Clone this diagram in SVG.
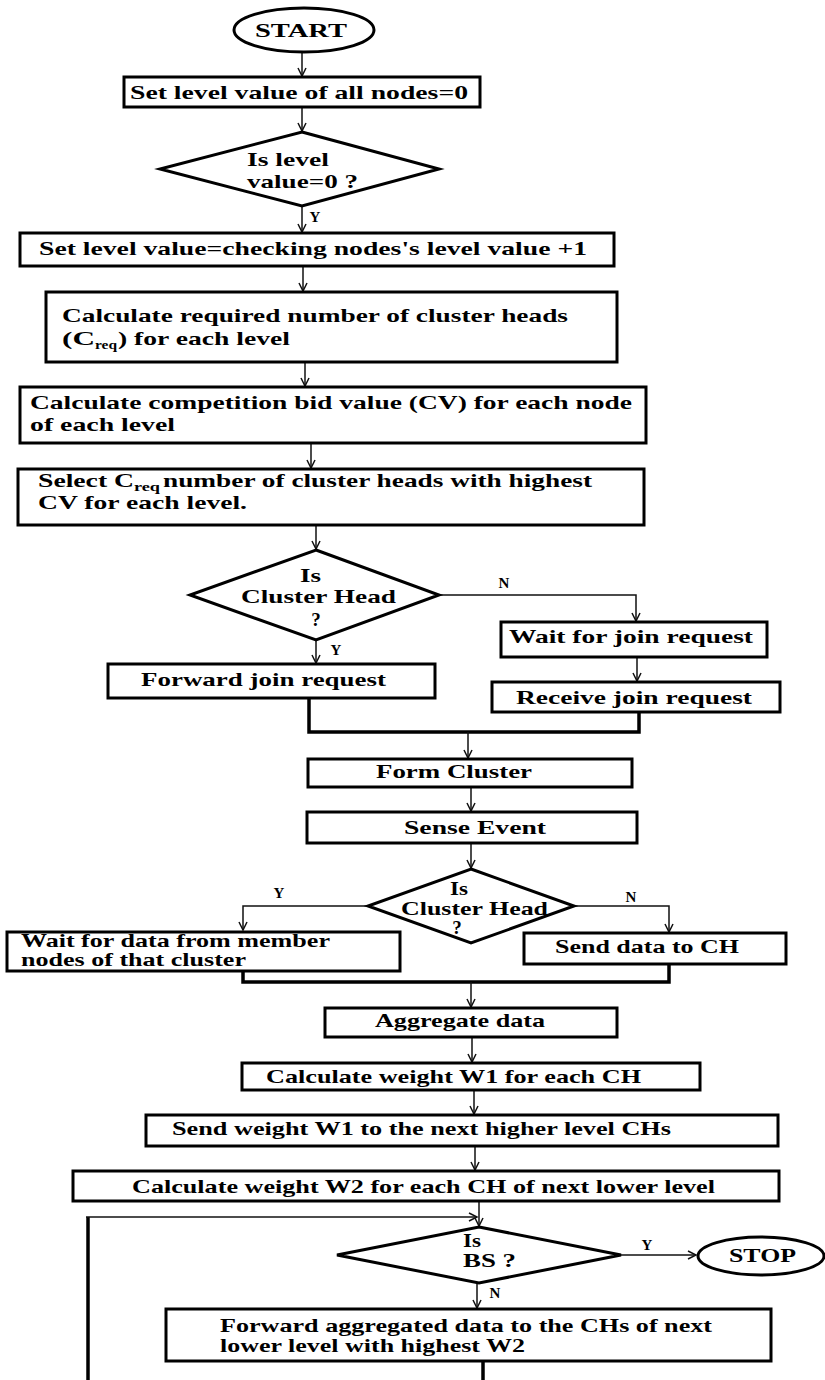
<svg xmlns="http://www.w3.org/2000/svg" width="825" height="1380" viewBox="0 0 825 1380">
  <style>
    .box { fill: #fff; stroke: #000; stroke-width: 3; }
    .dia { fill: #fff; stroke: #000; stroke-width: 3; }
    .term { fill: #fff; stroke: #000; stroke-width: 3; }
    .t { font-family: "Liberation Serif", "Times New Roman", serif; font-weight: bold; font-size: 19px; fill: #000; }
    .sub { font-family: "Liberation Serif", "Times New Roman", serif; font-weight: bold; font-size: 12px; fill: #000; }
    .lbl { font-family: "Liberation Serif", "Times New Roman", serif; font-weight: bold; font-size: 15px; fill: #000; text-anchor: middle; }
    .conn { fill: none; stroke: #111; stroke-width: 1.5; }
    .thick { fill: none; stroke: #000; stroke-width: 3.5; }
  </style>
  <defs>
    <marker id="arrow" markerUnits="userSpaceOnUse" markerWidth="12" markerHeight="12" refX="9" refY="5" orient="auto">
      <path d="M1,1 L9,5 L1,9" fill="none" stroke="#111" stroke-width="1.5"/>
    </marker>
  </defs>

  <rect width="825" height="1380" fill="#fff"/>

  <!-- connectors -->
  <g id="connectors">
    <line class="conn" x1="302" y1="52" x2="302" y2="76" marker-end="url(#arrow)"/>
    <line class="conn" x1="302" y1="107" x2="302" y2="131" marker-end="url(#arrow)"/>
    <line class="conn" x1="302" y1="206" x2="302" y2="232" marker-end="url(#arrow)"/>
    <line class="conn" x1="303" y1="266" x2="303" y2="291" marker-end="url(#arrow)"/>
    <line class="conn" x1="305" y1="362" x2="305" y2="386" marker-end="url(#arrow)"/>
    <line class="conn" x1="311" y1="443" x2="311" y2="468" marker-end="url(#arrow)"/>
    <line class="conn" x1="316" y1="525" x2="316" y2="549" marker-end="url(#arrow)"/>
    <!-- cluster head decision -->
    <polyline class="conn" points="439,595 636,595 636,621" marker-end="url(#arrow)"/>
    <line class="conn" x1="316" y1="640" x2="316" y2="663" marker-end="url(#arrow)"/>
    <line class="conn" x1="637" y1="657" x2="637" y2="681" marker-end="url(#arrow)"/>
    <polyline class="thick" points="309,698 309,732 639,732 639,712"/>
    <line class="conn" x1="468" y1="732" x2="468" y2="758" marker-end="url(#arrow)"/>
    <line class="conn" x1="471" y1="787" x2="471" y2="811" marker-end="url(#arrow)"/>
    <line class="conn" x1="471" y1="843" x2="471" y2="868" marker-end="url(#arrow)"/>
    <!-- data collection decision -->
    <polyline class="conn" points="368,906 243,906 243,930" marker-end="url(#arrow)"/>
    <polyline class="conn" points="574,906 669,906 669,932" marker-end="url(#arrow)"/>
    <polyline class="thick" points="243,971 243,982 669,982 669,964"/>
    <line class="conn" x1="471" y1="982" x2="471" y2="1007" marker-end="url(#arrow)"/>
    <line class="conn" x1="472" y1="1037" x2="472" y2="1062" marker-end="url(#arrow)"/>
    <line class="conn" x1="474" y1="1090" x2="474" y2="1114" marker-end="url(#arrow)"/>
    <line class="conn" x1="475" y1="1146" x2="475" y2="1170" marker-end="url(#arrow)"/>
    <line class="conn" x1="479" y1="1201" x2="479" y2="1226" marker-end="url(#arrow)"/>
    <!-- loop back -->
    <polyline class="thick" points="88,1380 88,1217"/>
    <line class="conn" x1="86" y1="1217" x2="477" y2="1217" marker-end="url(#arrow)"/>
    <line class="conn" x1="621" y1="1255" x2="696" y2="1255" marker-end="url(#arrow)"/>
    <line class="conn" x1="477" y1="1283" x2="477" y2="1308" marker-end="url(#arrow)"/>
    <line class="thick" x1="483" y1="1361" x2="483" y2="1380"/>
    <!-- branch labels -->
    <text class="lbl" x="315" y="222">Y</text>
    <text class="lbl" x="504" y="588">N</text>
    <text class="lbl" x="336" y="655">Y</text>
    <text class="lbl" x="279" y="898">Y</text>
    <text class="lbl" x="631" y="902">N</text>
    <text class="lbl" x="647" y="1250">Y</text>
    <text class="lbl" x="495" y="1298">N</text>
  </g>

  <g id="start">
    <ellipse class="term" cx="304" cy="30" rx="70" ry="22"/>
    <text class="t" x="255" y="37" textLength="92" lengthAdjust="spacingAndGlyphs">START</text>
  </g>

  <g id="init-levels">
    <rect class="box" x="124" y="77" width="356" height="30" stroke-width="4"/>
    <text class="t" x="130" y="99" textLength="338" lengthAdjust="spacingAndGlyphs">Set level value of all nodes=0</text>
  </g>

  <g id="check-level">
    <polygon class="dia" points="302,132 439,169 302,206 160,169"/>
    <text class="t" x="247" y="166" textLength="82" lengthAdjust="spacingAndGlyphs">Is level</text>
    <text class="t" x="247" y="188" textLength="111" lengthAdjust="spacingAndGlyphs">value=0 ?</text>
  </g>

  <g id="set-level">
    <rect class="box" x="20" y="233" width="594" height="33"/>
    <text class="t" x="39" y="255" textLength="548" lengthAdjust="spacingAndGlyphs">Set level value=checking nodes's level value +1</text>
  </g>

  <g id="calc-creq">
    <rect class="box" x="46" y="292" width="571" height="70"/>
    <text class="t" x="62" y="322" textLength="506" lengthAdjust="spacingAndGlyphs">Calculate required number of cluster heads</text>
    <text class="t" x="62" y="345" textLength="33" lengthAdjust="spacingAndGlyphs">(C</text>
    <text class="sub" x="95" y="349" textLength="22" lengthAdjust="spacingAndGlyphs">req</text>
    <text class="t" x="118" y="345" textLength="172" lengthAdjust="spacingAndGlyphs">) for each level</text>
  </g>

  <g id="calc-cv">
    <rect class="box" x="20" y="387" width="626" height="56"/>
    <text class="t" x="30" y="409" textLength="602" lengthAdjust="spacingAndGlyphs">Calculate competition bid value (CV) for each node</text>
    <text class="t" x="30" y="431" textLength="145" lengthAdjust="spacingAndGlyphs">of each level</text>
  </g>

  <g id="select-ch">
    <rect class="box" x="18" y="469" width="626" height="56"/>
    <text class="t" x="38" y="487" textLength="96" lengthAdjust="spacingAndGlyphs">Select C</text>
    <text class="sub" x="134" y="491" textLength="26" lengthAdjust="spacingAndGlyphs">req</text>
    <text class="t" x="163" y="487" textLength="429" lengthAdjust="spacingAndGlyphs">number of cluster heads with highest</text>
    <text class="t" x="38" y="509" textLength="209" lengthAdjust="spacingAndGlyphs">CV for each level.</text>
  </g>

  <g id="is-ch-1">
    <polygon class="dia" points="316,550 439,595 316,640 190,595"/>
    <text class="t" x="300" y="582" textLength="21" lengthAdjust="spacingAndGlyphs">Is</text>
    <text class="t" x="241" y="603" textLength="155" lengthAdjust="spacingAndGlyphs">Cluster Head</text>
    <text class="t" x="316" y="626" text-anchor="middle">?</text>
  </g>

  <g id="wait-join">
    <rect class="box" x="501" y="622" width="266" height="35"/>
    <text class="t" x="509" y="643" textLength="244" lengthAdjust="spacingAndGlyphs">Wait for join request</text>
  </g>

  <g id="receive-join">
    <rect class="box" x="492" y="682" width="288" height="30"/>
    <text class="t" x="516" y="704" textLength="236" lengthAdjust="spacingAndGlyphs">Receive join request</text>
  </g>

  <g id="forward-join">
    <rect class="box" x="108" y="664" width="327" height="34"/>
    <text class="t" x="141" y="686" textLength="245" lengthAdjust="spacingAndGlyphs">Forward join request</text>
  </g>

  <g id="form-cluster">
    <rect class="box" x="308" y="759" width="324" height="28"/>
    <text class="t" x="376" y="778" textLength="156" lengthAdjust="spacingAndGlyphs">Form Cluster</text>
  </g>

  <g id="sense-event">
    <rect class="box" x="307" y="812" width="330" height="31"/>
    <text class="t" x="404" y="834" textLength="142" lengthAdjust="spacingAndGlyphs">Sense Event</text>
  </g>

  <g id="is-ch-2">
    <polygon class="dia" points="471,869 574,906 471,943 368,906"/>
    <text class="t" x="450" y="895" textLength="18" lengthAdjust="spacingAndGlyphs">Is</text>
    <text class="t" x="401" y="915" textLength="147" lengthAdjust="spacingAndGlyphs">Cluster Head</text>
    <text class="t" x="457" y="934" text-anchor="middle" font-size="15">?</text>
  </g>

  <g id="wait-data">
    <rect class="box" x="7" y="932" width="393" height="39"/>
    <text class="t" x="21" y="947" textLength="309" lengthAdjust="spacingAndGlyphs">Wait for data from member</text>
    <text class="t" x="21" y="966" textLength="225" lengthAdjust="spacingAndGlyphs">nodes of that cluster</text>
  </g>

  <g id="send-data">
    <rect class="box" x="524" y="933" width="262" height="31"/>
    <text class="t" x="555" y="953" textLength="184" lengthAdjust="spacingAndGlyphs">Send data to CH</text>
  </g>

  <g id="aggregate">
    <rect class="box" x="325" y="1008" width="292" height="29"/>
    <text class="t" x="375" y="1027" textLength="170" lengthAdjust="spacingAndGlyphs">Aggregate data</text>
  </g>

  <g id="calc-w1">
    <rect class="box" x="242" y="1063" width="458" height="27"/>
    <text class="t" x="266" y="1083" textLength="375" lengthAdjust="spacingAndGlyphs">Calculate weight W1 for each CH</text>
  </g>

  <g id="send-w1">
    <rect class="box" x="146" y="1115" width="632" height="31"/>
    <text class="t" x="172" y="1135" textLength="499" lengthAdjust="spacingAndGlyphs">Send weight W1 to the next higher level CHs</text>
  </g>

  <g id="calc-w2">
    <rect class="box" x="73" y="1171" width="706" height="30"/>
    <text class="t" x="132" y="1193" textLength="583" lengthAdjust="spacingAndGlyphs">Calculate weight W2 for each CH of next lower level</text>
  </g>

  <g id="is-bs">
    <polygon class="dia" points="479,1227 621,1255 479,1283 337,1255"/>
    <text class="t" x="463" y="1247" textLength="18" lengthAdjust="spacingAndGlyphs">Is</text>
    <text class="t" x="463" y="1267" textLength="53" lengthAdjust="spacingAndGlyphs">BS ?</text>
  </g>

  <g id="stop">
    <ellipse class="term" cx="761" cy="1256" rx="63" ry="19"/>
    <text class="t" x="729" y="1262" textLength="67" lengthAdjust="spacingAndGlyphs">STOP</text>
  </g>

  <g id="forward-data">
    <rect class="box" x="166" y="1309" width="605" height="52"/>
    <text class="t" x="220" y="1332" textLength="492" lengthAdjust="spacingAndGlyphs">Forward aggregated data to the CHs of next</text>
    <text class="t" x="220" y="1352" textLength="305" lengthAdjust="spacingAndGlyphs">lower level with highest W2</text>
  </g>
</svg>
